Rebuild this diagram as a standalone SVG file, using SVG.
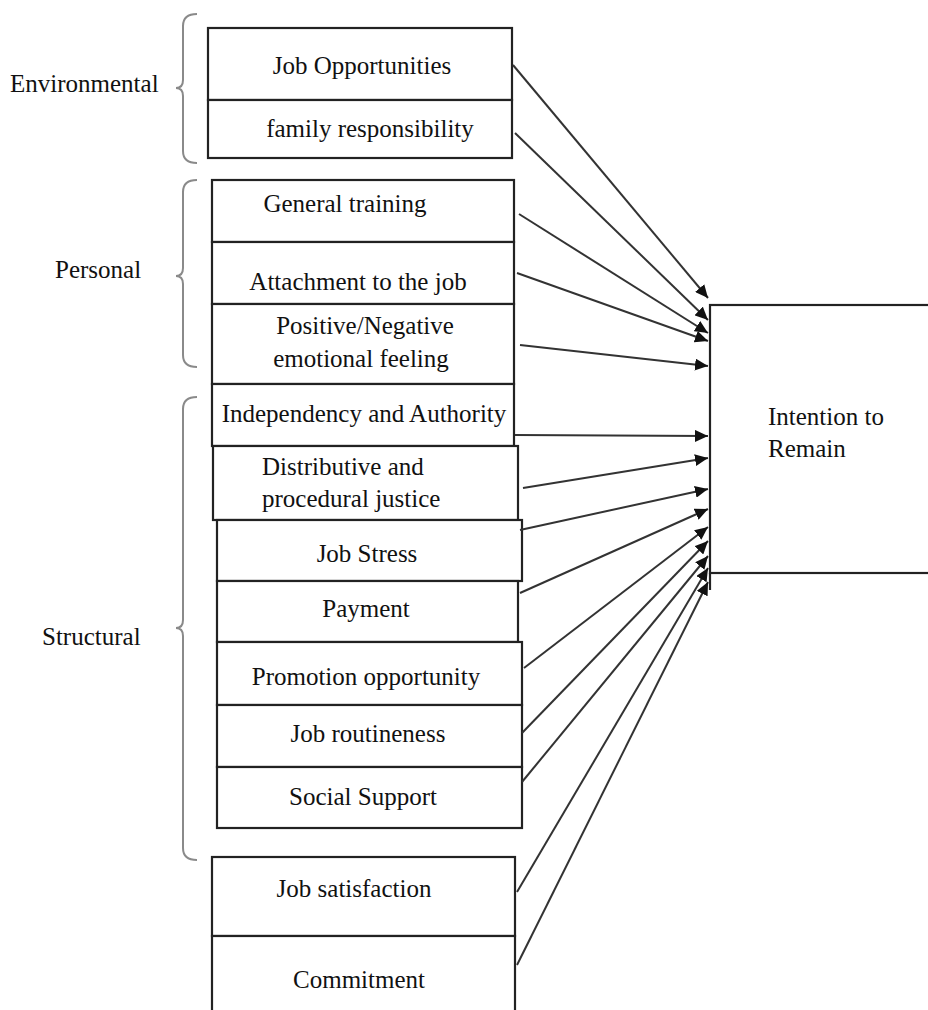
<svg xmlns="http://www.w3.org/2000/svg" width="928" height="1010" viewBox="0 0 928 1010">
<style>
.box{fill:#fff;stroke:#222;stroke-width:2.2}
.t{font-family:"Liberation Serif","Times New Roman",serif;font-size:25px;fill:#111}
.m{text-anchor:middle}
.brace{fill:none;stroke:#8a8a8a;stroke-width:2}
.arr{stroke:#333;stroke-width:2;fill:none;marker-end:url(#ah)}
</style>
<defs>
<marker id="ah" markerUnits="userSpaceOnUse" markerWidth="14" markerHeight="12" refX="13" refY="6" orient="auto">
<path d="M0,0 L13,6 L0,12 z" fill="#111"/>
</marker>
</defs>
<rect width="928" height="1010" fill="#fff"/>
<g id="braces">
<g id="env-group">
<path class="brace" d="M197,14 Q183,14 183,26 L183,80 Q183,88 176,88 Q183,88 183,96 L183,151 Q183,163 197,163"/>
<text class="t" x="10" y="92">Environmental</text>
</g>
<g id="pers-group">
<path class="brace" d="M197,180 Q183,180 183,192 L183,268 Q183,276 176,276 Q183,276 183,284 L183,355 Q183,367 197,367"/>
<text class="t" x="55" y="278">Personal</text>
</g>
<g id="struct-group">
<path class="brace" d="M197,397 Q183,397 183,409 L183,620 Q183,628 176,628 Q183,628 183,636 L183,848 Q183,860 197,860"/>
<text class="t" x="42" y="645">Structural</text>
</g>
</g>
<g id="n1"><rect class="box" x="208" y="28" width="304" height="72"/><text class="t m" x="362" y="74">Job Opportunities</text></g>
<g id="n2"><rect class="box" x="208" y="100" width="304" height="58"/><text class="t m" x="370" y="137">family responsibility</text></g>
<g id="n3"><rect class="box" x="212" y="180" width="302" height="62"/><text class="t m" x="345" y="212">General training</text></g>
<g id="n4"><rect class="box" x="212" y="242" width="302" height="62"/><text class="t m" x="358" y="290">Attachment to the job</text></g>
<g id="n5"><rect class="box" x="212" y="304" width="302" height="80"/><text class="t m" x="365" y="334">Positive/Negative</text><text class="t m" x="361" y="367">emotional feeling</text></g>
<g id="n6"><rect class="box" x="212" y="384" width="302" height="62"/><text class="t m" x="364" y="422">Independency and Authority</text></g>
<g id="n7"><rect class="box" x="213" y="446" width="305" height="74"/><text class="t" x="262" y="475">Distributive and</text><text class="t" x="262" y="507">procedural justice</text></g>
<g id="n8"><rect class="box" x="217" y="520" width="305" height="61"/><text class="t m" x="367" y="562">Job Stress</text></g>
<g id="n9"><rect class="box" x="217" y="581" width="301" height="61"/><text class="t m" x="366" y="617">Payment</text></g>
<g id="n10"><rect class="box" x="217" y="642" width="305" height="63"/><text class="t m" x="366" y="685">Promotion opportunity</text></g>
<g id="n11"><rect class="box" x="217" y="705" width="305" height="62"/><text class="t m" x="368" y="742">Job routineness</text></g>
<g id="n12"><rect class="box" x="217" y="767" width="305" height="61"/><text class="t m" x="363" y="805">Social Support</text></g>
<g id="n13"><rect class="box" x="212" y="857" width="303" height="79"/><text class="t m" x="354" y="897">Job satisfaction</text></g>
<g id="n14"><rect class="box" x="212" y="936" width="303" height="80"/><text class="t m" x="359" y="988">Commitment</text></g>
<g id="target"><rect class="box" x="710" y="305" width="240" height="268"/><line x1="710" y1="573" x2="710" y2="590" stroke="#222" stroke-width="2.2"/><text class="t" x="768" y="425">Intention to</text><text class="t" x="768" y="457">Remain</text></g>
<g id="connectors">
<line class="arr" x1="513" y1="65" x2="708" y2="298"/>
<line class="arr" x1="515" y1="133" x2="708" y2="320"/>
<line class="arr" x1="519" y1="214" x2="708" y2="333"/>
<line class="arr" x1="517" y1="273" x2="708" y2="341"/>
<line class="arr" x1="520" y1="345" x2="708" y2="366"/>
<line class="arr" x1="515" y1="435" x2="708" y2="436"/>
<line class="arr" x1="523" y1="488" x2="708" y2="458"/>
<line class="arr" x1="520" y1="530" x2="708" y2="489"/>
<line class="arr" x1="520" y1="593" x2="708" y2="509"/>
<line class="arr" x1="524" y1="668" x2="708" y2="527"/>
<line class="arr" x1="522" y1="733" x2="708" y2="541"/>
<line class="arr" x1="522" y1="782" x2="708" y2="556"/>
<line class="arr" x1="517" y1="892" x2="708" y2="568"/>
<line class="arr" x1="517" y1="965" x2="708" y2="582"/>
</g>
</svg>
